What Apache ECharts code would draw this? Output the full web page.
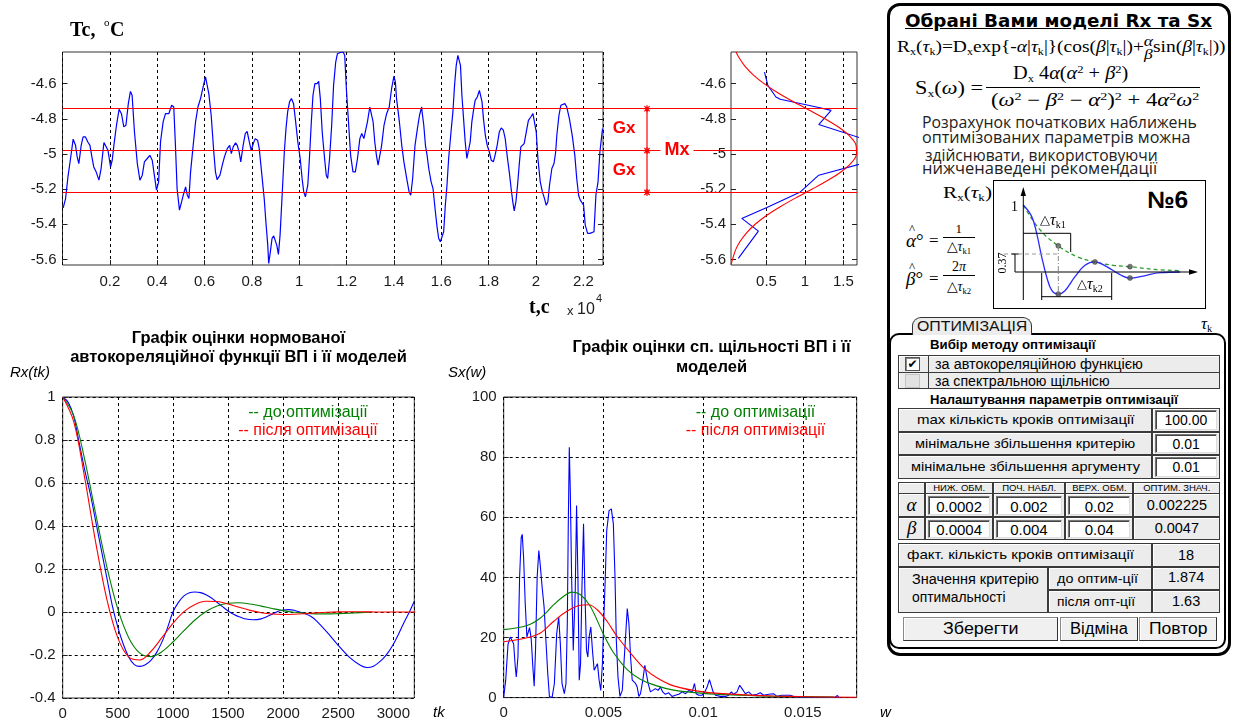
<!DOCTYPE html>
<html><head><meta charset="utf-8">
<script src="https://cdn.jsdelivr.net/npm/echarts@6/dist/echarts.min.js"></script>
<style>
html,body{margin:0;padding:0;background:#fff;width:1235px;height:726px;overflow:hidden;}
#panel{position:absolute;left:0;top:0;width:1235px;height:726px;z-index:0;}
#chart{position:absolute;left:0;top:0;width:1235px;height:726px;z-index:1;}
#panel sub{font-size:0.62em;vertical-align:-0.3em;line-height:0;}
#panel sup{font-size:0.62em;vertical-align:0.55em;line-height:0;}
.fr{display:inline-flex;flex-direction:column;vertical-align:middle;text-align:center;line-height:0.95;font-size:0.9em;}
</style></head><body>
<div id="panel"></div>
<div id="chart"></div>
<script>
// ================= DATA =================
// Temperature record Tc (°C) vs time t (×10^4 s)
const tcTime = [0.003,0.013,0.023,0.034,0.045,0.055,0.062,0.069,0.079,0.087,0.097,0.107,0.116,0.123,0.132,0.142,0.154,0.163,0.175,0.182,0.192,0.203,0.210,0.217,0.228,0.239,0.249,0.259,0.268,0.278,0.287,0.294,0.304,0.316,0.327,0.337,0.346,0.358,0.369,0.379,0.389,0.397,0.406,0.414,0.425,0.435,0.449,0.461,0.470,0.477,0.484,0.494,0.503,0.510,0.520,0.527,0.534,0.541,0.552,0.562,0.572,0.583,0.594,0.604,0.611,0.618,0.628,0.639,0.646,0.653,0.665,0.675,0.684,0.696,0.706,0.713,0.721,0.731,0.738,
0.746,0.753,0.763,0.772,0.780,0.789,0.797,0.806,0.814,0.824,0.831,0.838,0.845,0.852,0.859,0.867,0.871,0.878,0.885,0.892,0.899,0.905,0.912,0.919,0.927,0.937,0.944,0.951,0.959,0.967,0.976,0.984,0.994,1.004,1.012,1.019,1.026,1.036,1.043,1.051,1.058,1.066,1.075,1.082,1.089,1.097,1.107,1.114,1.120,1.128,1.137,1.145,1.154,1.161,1.171,1.185,1.192,1.199,1.208,1.217,1.227,1.237,1.246,1.256,1.264,1.273,1.281,1.288,1.298,1.305,1.312,1.319,1.326,1.333,1.341,1.348,1.358,1.369,1.380,1.390,1.400,1.406,1.411,1.423,1.433,1.442,1.454,1.464,1.471,1.479,1.489,1.499,1.508,1.517,
1.519,1.526,1.533,1.540,1.547,1.557,1.565,1.575,1.582,1.589,1.596,1.603,1.610,1.617,1.624,1.631,1.641,1.649,1.656,1.663,1.670,1.676,1.681,1.687,1.694,1.701,1.708,1.715,1.722,1.729,1.736,1.743,1.752,1.761,1.766,1.772,1.778,1.786,1.794,1.803,1.811,1.820,1.827,1.836,1.845,1.853,1.862,1.870,1.878,1.887,1.895,1.902,1.908,1.915,1.922,1.929,1.936,1.943,1.950,1.959,1.968,1.978,1.987,1.994,2.001,2.008,2.018,2.027,2.036,2.043,2.050,2.057,2.067,2.076,2.083,2.088,2.097,2.105,2.113,2.122,2.130,2.141,2.153,2.164,2.172,2.180,2.187,2.194,2.201,2.208,2.218,2.228,2.236,2.245,2.253,2.262,2.270,2.281];
const tcTemp = [-5.307,-5.254,-5.131,-5.026,-4.916,-4.951,-5.017,-5.055,-4.951,-4.903,-4.903,-4.932,-4.951,-5.008,-5.074,-5.102,-5.149,-5.083,-4.935,-4.932,-4.979,-5.074,-5.036,-4.951,-4.837,-4.746,-4.771,-4.846,-4.837,-4.714,-4.644,-4.666,-4.875,-5.055,-5.149,-5.121,-5.045,-5.026,-5.008,-5.036,-5.131,-5.206,-5.159,-4.932,-4.818,-4.771,-4.771,-4.723,-4.733,-4.951,-5.197,-5.320,-5.273,-5.235,-5.187,-5.235,-5.254,-5.102,-4.951,-4.818,-4.733,-4.685,-4.619,-4.562,-4.562,-4.657,-4.780,-4.989,-5.102,-5.146,-5.121,-5.064,-5.017,-4.970,-4.951,-4.998,-4.960,-4.937,-4.951,
-4.988,-5.045,-4.951,-4.884,-4.871,-4.932,-4.979,-4.941,-4.913,-4.922,-4.970,-5.064,-5.159,-5.254,-5.386,-5.519,-5.623,-5.557,-5.481,-5.466,-5.477,-5.519,-5.572,-5.462,-5.254,-4.988,-4.856,-4.761,-4.704,-4.685,-4.714,-4.808,-4.932,-5.026,-5.140,-5.216,-5.244,-5.178,-5.026,-4.818,-4.666,-4.600,-4.600,-4.587,-4.685,-4.875,-5.026,-5.121,-5.140,-5.026,-4.837,-4.610,-4.477,-4.430,-4.424,-4.420,-4.439,-4.629,-4.818,-5.008,-5.102,-5.102,-5.026,-4.913,-4.884,-4.913,-4.903,-4.818,-4.733,-4.733,-4.818,-4.932,-5.008,-5.064,-5.055,-4.951,-4.837,-4.771,-4.733,-4.629,-4.557,-4.591,-4.685,-4.818,-4.951,-5.045,-5.140,-5.216,-5.235,-5.140,-4.951,-4.856,-4.780,-4.733,
-4.761,-4.837,-4.951,-5.008,-5.083,-5.159,-5.197,-5.329,-5.415,-5.481,-5.500,-5.509,-5.443,-5.292,-5.178,-5.026,-4.875,-4.761,-4.610,-4.496,-4.439,-4.435,-4.496,-4.666,-4.799,-4.932,-5.026,-5.022,-4.932,-4.818,-4.752,-4.695,-4.676,-4.638,-4.629,-4.704,-4.799,-4.894,-4.951,-4.989,-5.036,-5.045,-5.008,-4.951,-4.875,-4.852,-4.865,-4.913,-5.008,-5.102,-5.197,-5.273,-5.324,-5.273,-5.178,-5.064,-4.960,-4.951,-4.941,-4.875,-4.809,-4.790,-4.771,-4.761,-4.875,-5.026,-5.159,-5.216,-5.254,-5.292,-5.273,-5.178,-5.083,-5.055,-4.989,-4.894,-4.780,-4.723,-4.723,-4.714,-4.733,-4.799,-4.894,-5.008,-5.140,-5.235,-5.263,-5.254,-5.292,-5.405,-5.452,-5.452,-5.458,-5.443,-5.235,-5.159,-4.988,-4.856];
const tcTicks = [-5.6, -5.4, -5.2, -5, -4.8, -4.6];
const timeTickStep = 0.2;
const Mx = -4.981;   // mean
const Gx = 0.238;    // standard deviation

// Histogram (density vs temperature) and the fitted normal density
const histDensity = [0.474,0.518,0.623,0.679,1.179,1.340,1.179,1.80,1.85,1.78,1.179,0.940,0.505,0.179,0.395,0.134];
const histTemp    = [-4.534,-4.610,-4.676,-4.689,-4.736,-4.752,-4.833,-4.92,-5.00,-5.05,-5.121,-5.216,-5.305,-5.367,-5.439,-5.594];
const pdfDensity = [0.040,0.095,0.154,0.239,0.353,0.500,0.679,0.881,1.094,1.299,1.476,1.605,1.670,1.663,1.584,1.444,1.259,1.051,0.839,0.641,0.468,0.328,0.219,0.140,0.105];
const pdfTemp    = [-5.63,-5.55,-5.50,-5.45,-5.40,-5.35,-5.30,-5.25,-5.20,-5.15,-5.10,-5.05,-5.00,-4.95,-4.90,-4.85,-4.80,-4.75,-4.70,-4.65,-4.60,-4.55,-4.50,-4.45,-4.42];
const histTicks = [0.5, 1, 1.5];

// Normalised autocorrelation: estimate and models
const acfLagEst = [0,50,100,150,200,250,300,350,400,450,500,550,600,650,700,750,800,850,900,950,1000,1050,1100,1150,1200,1250,1300,1350,1400,1450,1500,1550,1600,1650,1730,1800,1850,1900,1950,2000,2050,2100,2150,2200,2250,2300,2400,2500,2600,2700,2760,2820,2900,2950,3000,3050,3100,3150,3190];
const acfEst    = [1,0.975,0.91,0.785,0.66,0.55,0.42,0.29,0.16,0.03,-0.07,-0.15,-0.21,-0.245,-0.253,-0.245,-0.225,-0.19,-0.14,-0.075,0.0,0.045,0.075,0.09,0.093,0.09,0.08,0.065,0.045,0.025,0.005,-0.01,-0.022,-0.031,-0.036,-0.032,-0.022,-0.01,0.002,0.009,0.011,0.008,0.0,-0.008,-0.02,-0.04,-0.095,-0.155,-0.21,-0.248,-0.258,-0.252,-0.22,-0.19,-0.15,-0.1,-0.045,0.005,0.05];
const acfLagModel = [0,100,200,300,400,500,600,700,800,900,1000,1100,1200,1300,1400,1500,1600,1700,1800,1900,2000,2100,2200,2300,2400,2500,2600,2700,2800,2900,3000,3100,3200];
const acfBefore = [1,0.9135,0.7075,0.4546,0.2115,0.0142,-0.1204,-0.1910,-0.2075,-0.1848,-0.1396,-0.0868,-0.0372,0.0020,0.0280,0.0409,0.0429,0.0373,0.0274,0.0165,0.0064,-0.0014,-0.0064,-0.0087,-0.0088,-0.0074,-0.0054,-0.0031,-0.0012];
const acfAfter  = [1,0.8854,0.6229,0.3219,0.0602,-0.1203,-0.2103,-0.2231,-0.1837,-0.1193,-0.0525,0.0016,0.0353,0.0500,0.0487,0.0372,0.0220,0.0076,-0.0033,-0.0096,-0.0116,-0.0103,-0.0074,-0.0039,-0.0010,0.0005,0.001,0.001,0.0005,0,0,0,0];

// Spectral density: periodogram estimate and models
const spW = [0,0.0001,0.000216,0.000332,0.000432,0.000498,0.000581,0.000631,0.000714,0.000797,0.00088,0.00093,0.000997,0.00108,0.001163,0.001213,0.001296,0.001379,0.001462,0.001528,0.001595,0.001678,0.001761,0.001827,0.001927,0.002026,0.002126,0.002209,0.002292,0.002425,0.002541,0.002658,0.002757,0.00284,0.002923,0.00304,0.003123,0.003189,0.003239,0.003289,0.003339,0.003405,0.003488,0.003588,0.003654,0.003721,0.003787,0.003854,0.00392,0.004003,0.004069,0.004153,0.004219,0.004285,0.004368,0.004451,0.004535,0.004618,0.004701,0.004784,0.004867,0.00495,0.005,0.005083,0.005166,0.005282,0.005398,0.005498,0.005581,0.005647,0.00573,0.00583,0.005946,0.006079,0.006196,0.006279,0.006362,0.006445,0.006528,0.006611,0.006694,0.006777,0.00686,0.006976,0.007076,0.007159,0.007242,0.007358,0.007475,0.007608,0.007741,0.007857,0.007973,0.008106,0.008272,0.008438,0.008604,0.008783,0.00895,0.009117,0.009283,0.00945,0.009567,0.00965,0.009783,0.00995,0.010083,0.0102,0.010317,0.0104,0.0105,0.010617,0.010867,0.011117,0.011283,0.011417,0.011533,0.0117,0.011833,0.01195,0.012117,0.012283,0.01245,0.0127,0.012867,0.013033,0.013283,0.013533,0.0137,0.01395,0.014367,0.014617,0.01495,0.015783,0.016617,0.016733,0.016817];
const spV = [0.2,5.8,17.7,20.2,20.7,17.9,10.2,6.9,13.5,40.1,53.4,54.3,46.7,31.2,20.2,19.6,23.3,19.6,10.2,3.8,15.7,40.1,48.9,44.5,36.8,30.1,17.9,8.0,0.4,0,4.7,21.3,26.8,17.9,4.7,1.3,4.7,24.6,57.8,83.3,68.9,40.1,15.7,35.7,63.9,40.1,5.8,11.3,35.7,57.8,35.7,15.7,13.5,20.2,23.5,15.7,9.1,10.2,11.3,5.8,2.4,11.3,22.4,37.9,55.6,62.2,62.8,57.8,40.1,19.0,6.9,0.4,2.4,16.8,29.6,24.6,13.5,5.8,6.3,4.7,3.5,0.4,1.3,5.8,10.7,10.2,4.7,1.9,2.4,3.0,2.4,3.5,1.9,1.1,1.6,0.4,0.8,1.1,1.9,1.3,2.4,1.9,4.7,1.3,0.8,0.8,1.9,3.5,6.0,6.6,1.9,0.8,0.4,0.4,0.8,1.9,1.1,1.9,4.1,3.0,1.3,1.9,0.8,1.1,1.6,0.8,1.1,1.3,0.4,0.8,0.8,0.2,0.1,0.1,0.1,0.7,0];
const sxBeforeW = [0,0.00117,0.00184,0.00251,0.00301,0.00342,0.00384,0.00434,0.00501,0.00551,0.00618,0.00685,0.00768,0.00852,0.01,0.01186,0.01353,0.01654];
const sxBeforeV = [22.6,24.0,26.5,30.9,33.7,35.1,34.3,30.4,21.0,14.9,9.4,6.1,3.9,2.5,1.4,0.8,0.45,0.2];
const sxAfterW = [0,0.00117,0.00184,0.00251,0.00317,0.00384,0.00426,0.00468,0.00518,0.00568,0.00635,0.00702,0.00768,0.00852,0.01,0.01186,0.01353,0.0152,0.0177];
const sxAfterV = [18.6,19.9,21.5,25.4,28.7,30.7,30.9,29.3,25.4,20.4,14.9,9.9,6.6,3.9,1.9,1.0,0.55,0.3,0.1];

// Sketch "№6" (illustrative damped ACF and its envelope)
const sketchX = [0,0.5,0.8,1.1,1.4,1.7,2.1,2.5,3.1,3.7,4.3,5.0,5.8,6.4,7.2,8.2,9.4];
const sketchR = [1.0,0.83,0.58,0.23,-0.07,-0.27,-0.33,-0.28,-0.07,0.10,0.15,0.08,-0.04,-0.09,-0.06,-0.01,0.0];
const envX = [0,1.0,2.1,3.2,4.3,5.4,6.4,7.8,9.4];
const envR = [1.0,0.63,0.39,0.23,0.15,0.10,0.08,0.04,0.02];
const dotX = [2.1,4.3,6.4,6.4,2.1];
const dotR = [0.39,0.15,0.08,-0.09,-0.33];

// Optimisation table values
const methodRows = ['за автокореляційною функцією','за спектральною щільнісю'];
const settingRows = [['max кількість кроків оптимізації','100.00'],['мінімальне збільшення критерію','0.01'],['мінімальне збільшення аргументу','0.01']];
const paramHeader = ['НИЖ. ОБМ.','ПОЧ. НАБЛ.','ВЕРХ. ОБМ.','ОПТИМ. ЗНАЧ.'];
const alphaRow = ['0.0002','0.002','0.02','0.002225'];
const betaRow  = ['0.0004','0.004','0.04','0.0047'];
const stepsDone = '18';
const critBefore = '1.874';
const critAfter = '1.63';

// ================= CHART =================
const SANS = '"Liberation Sans", Arial, Helvetica, sans-serif';
const SERIF = '"Liberation Serif", "Times New Roman", serif';
const pairs = (xs, ys) => xs.map((x, i) => [x, ys[i]]);
const dashed = {show:true, lineStyle:{color:'#000', type:[3,3], width:1}};
const plain = (v) => String(+v.toPrecision(10));
const lbl = (extra) => Object.assign({color:'#1a1a1a', fontFamily:SANS, fontSize:15, margin:7, formatter:plain}, extra||{});
const tck = (extra) => Object.assign({show:true, inside:true, length:5, lineStyle:{color:'#222'}}, extra||{});
function axis(o){
  return Object.assign({type:'value', axisLine:{show:false}, axisTick:tck(), axisLabel:lbl(), splitLine:{show:false}}, o);
}
const gridStyle = {show:true, borderColor:'#333', borderWidth:1, backgroundColor:'transparent'};
const yTop = -4.42, yBot = -5.632;

const option = {
  animation:false,
  backgroundColor:'transparent',
  grid:[
    Object.assign({left:62.5, top:52, width:540.5, height:213}, gridStyle),
    Object.assign({left:731, top:52, width:126, height:213}, gridStyle),
    Object.assign({left:62.7, top:397, width:351.6, height:301}, gridStyle),
    Object.assign({left:503.7, top:397, width:353, height:300.6}, gridStyle),
    {left:62.5, top:52, width:794.5, height:213, show:false},
    {left:1023.3, top:205, width:166.7, height:93.8, show:false}
  ],
  xAxis:[
    axis({gridIndex:0, min:0, max:2.283, interval:timeTickStep, axisLabel:lbl({showMinLabel:false, showMaxLabel:false, margin:9}), splitLine:dashed}),
    axis({gridIndex:1, min:0.039, max:1.676, axisLabel:lbl({customValues:histTicks, margin:9}), axisTick:tck({customValues:histTicks}), splitLine:Object.assign({customValues:histTicks}, dashed)}),
    axis({gridIndex:2, min:0, max:3190, interval:500, axisLabel:lbl({showMaxLabel:false, margin:8}), splitLine:dashed}),
    axis({gridIndex:3, min:0, max:0.0177, interval:0.005, axisLabel:lbl({showMaxLabel:false, margin:8}), splitLine:dashed}),
    {type:'value', gridIndex:4, min:0, max:1, show:false},
    {type:'value', gridIndex:5, min:0, max:10, show:false}
  ],
  yAxis:[
    axis({gridIndex:0, min:yBot, max:yTop, axisLabel:lbl({customValues:tcTicks, margin:6}), axisTick:tck({customValues:tcTicks})}),
    axis({gridIndex:1, min:yBot, max:yTop, axisLabel:lbl({customValues:tcTicks, margin:5}), axisTick:tck({customValues:tcTicks})}),
    axis({gridIndex:2, min:-0.4, max:1, interval:0.2, axisLabel:lbl({margin:7}), splitLine:dashed}),
    axis({gridIndex:3, min:0, max:100, interval:20, axisLabel:lbl({margin:7}), splitLine:dashed}),
    {type:'value', gridIndex:4, min:yBot, max:yTop, show:false},
    {type:'value', gridIndex:5, min:-0.4, max:1, show:false},
    axis({gridIndex:0, position:'right', min:yBot, max:yTop, axisLabel:{show:false}, axisTick:tck({customValues:tcTicks})}),
    axis({gridIndex:1, position:'right', min:yBot, max:yTop, axisLabel:{show:false}, axisTick:tck({customValues:tcTicks})})
  ],
  series:[
    {type:'line', xAxisIndex:0, yAxisIndex:0, data:pairs(tcTime, tcTemp), showSymbol:false, silent:true, lineStyle:{color:'#0000ff', width:1.2}, z:3},
    {type:'line', xAxisIndex:1, yAxisIndex:1, data:pairs(histDensity, histTemp), showSymbol:false, silent:true, lineStyle:{color:'#0000ff', width:1.1}, z:3},
    {type:'line', xAxisIndex:1, yAxisIndex:1, data:pairs(pdfDensity, pdfTemp), showSymbol:false, silent:true, smooth:0.3, lineStyle:{color:'#ff0000', width:1.1}, z:3},
    // Mx ± Gx lines across both upper plots
    {type:'line', xAxisIndex:4, yAxisIndex:4, data:[], silent:true, z:4,
      markLine:{silent:true, symbol:['none','none'], label:{show:false}, lineStyle:{color:'#ff0000', width:1.2, type:'solid'},
        data:[{yAxis:Mx+Gx},{yAxis:Mx},{yAxis:Mx-Gx}]}},
    {type:'line', xAxisIndex:4, yAxisIndex:4, data:[[0.7357,Mx+Gx],[0.7357,Mx],[0.7357,Mx-Gx]], silent:true, z:5,
      symbol:'path://M0,4L8,4M4,0L4,8M1,1L7,7M7,1L1,7', symbolSize:7, showSymbol:true,
      itemStyle:{color:'none', borderColor:'#ff0000', borderWidth:1.2}, lineStyle:{color:'#ff0000', width:1.2}},
    // ACF
    {type:'line', xAxisIndex:2, yAxisIndex:2, data:pairs(acfLagEst, acfEst), showSymbol:false, silent:true, smooth:0.3, lineStyle:{color:'#0000ff', width:1.1}, z:3},
    {type:'line', xAxisIndex:2, yAxisIndex:2, data:pairs(acfLagModel.slice(0, acfBefore.length), acfBefore), showSymbol:false, silent:true, smooth:0.35, lineStyle:{color:'#008000', width:1.1}, z:4},
    {type:'line', xAxisIndex:2, yAxisIndex:2, data:pairs(acfLagModel, acfAfter), showSymbol:false, silent:true, smooth:0.35, lineStyle:{color:'#ff0000', width:1.1}, z:5},
    // Spectral density
    {type:'line', xAxisIndex:3, yAxisIndex:3, data:pairs(spW, spV), showSymbol:false, silent:true, lineStyle:{color:'#0000ff', width:1.1}, z:3},
    {type:'line', xAxisIndex:3, yAxisIndex:3, data:pairs(sxBeforeW, sxBeforeV), showSymbol:false, silent:true, smooth:0.35, lineStyle:{color:'#008000', width:1.1}, z:4},
    {type:'line', xAxisIndex:3, yAxisIndex:3, data:pairs(sxAfterW, sxAfterV), showSymbol:false, silent:true, smooth:0.35, lineStyle:{color:'#ff0000', width:1.1}, z:5},
    // sketch
    {type:'line', xAxisIndex:5, yAxisIndex:5, data:pairs(envX, envR), showSymbol:false, silent:true, smooth:0.4, lineStyle:{color:'#2a9a2a', width:1.3, type:[4,3]}, z:3},
    {type:'line', xAxisIndex:5, yAxisIndex:5, data:pairs(sketchX, sketchR), showSymbol:false, silent:true, smooth:0.4, lineStyle:{color:'#2a2aff', width:1.3}, z:4},
    {type:'scatter', xAxisIndex:5, yAxisIndex:5, data:pairs(dotX, dotR), silent:true, symbolSize:5, itemStyle:{color:'#555', borderColor:'#222', borderWidth:0.5}, z:6}
  ]
};

function T(x, y, text, font, fill, align, extra){
  return Object.assign({type:'text', x:x, y:y, z:100, silent:true,
    style:Object.assign({text:text, font:font, fill:fill||'#000', align:align||'left', textAlign:align||'left', verticalAlign:'middle', textVerticalAlign:'middle'}, extra||{})});
}
function L(x1,y1,x2,y2,stroke,dash,w){
  return {type:'line', z:100, silent:true, shape:{x1:x1,y1:y1,x2:x2,y2:y2}, style:{stroke:stroke||'#000', lineWidth:w||1, lineDash:dash||null}};
}
const g = [];
// top chart labels
g.push(T(70, 31, 'Tc,', 'bold 20px '+SERIF, '#000'));
g.push(T(104, 23, 'o', '11px '+SERIF, '#000'));
g.push(T(110, 31, 'C', 'bold 20px '+SERIF, '#000'));
g.push(T(529, 308, 't,c', 'bold 20px '+SERIF, '#000'));
g.push(T(567, 311, 'x', '13px '+SANS, '#222'));
g.push(T(577, 310, '10', '16px '+SANS, '#222'));
g.push(T(596, 299, '4', '11px '+SANS, '#222'));
g.push(T(624, 128, 'Gx', 'bold 17px '+SANS, '#ff0000', 'center'));
g.push(T(624, 170, 'Gx', 'bold 17px '+SANS, '#ff0000', 'center'));
g.push(T(677, 150, 'Mx', 'bold 18px '+SANS, '#ff0000', 'center', {backgroundColor:'#fff', padding:[1,4]}));
// ACF chart texts
g.push(T(238.5, 338, 'Графік оцінки нормованої', 'bold 16.5px '+SANS, '#000', 'center'));
g.push(T(238.5, 357, 'автокореляційної функції ВП і її моделей', 'bold 16.5px '+SANS, '#000', 'center'));
g.push(T(10, 373, 'Rx(tk)', 'italic 15px '+SANS, '#000'));
g.push(T(433, 713, 'tk', 'italic 15px '+SANS, '#000'));
g.push(T(308, 413, '-- до оптимізації', '16px '+SANS, '#008000', 'center'));
g.push(T(308, 431, '-- після оптимізації', '16px '+SANS, '#ff0000', 'center'));
// Sx chart texts
g.push(T(711.5, 347, 'Графік оцінки сп. щільності ВП і її', 'bold 16.5px '+SANS, '#000', 'center'));
g.push(T(711.5, 367, 'моделей', 'bold 16.5px '+SANS, '#000', 'center'));
g.push(T(448, 373, 'Sx(w)', 'italic 15px '+SANS, '#000'));
g.push(T(880, 713, 'w', 'italic 15px '+SANS, '#000'));
g.push(T(755.5, 413, '-- до оптимізації', '16px '+SANS, '#008000', 'center'));
g.push(T(755.5, 431, '-- після оптимізації', '16px '+SANS, '#ff0000', 'center'));
// sketch axes and annotations
g.push(L(1023.3, 300, 1023.3, 194));
g.push({type:'polygon', z:100, silent:true, shape:{points:[[1023.3,187],[1020.6,196],[1026,196]]}, style:{fill:'#000'}});
g.push(L(1015, 272, 1190, 272));
g.push({type:'polygon', z:100, silent:true, shape:{points:[[1198,272],[1189,269.3],[1189,274.7]]}, style:{fill:'#000'}});
g.push(T(1018, 207, '1', '14px '+SERIF, '#000', 'right'));
g.push(L(1004, 254, 1060, 254, '#999', [4,3]));
g.push(L(1058.3, 246, 1058.3, 294, '#888', [5,2,1,2]));
g.push(L(1015, 254, 1015, 272));
g.push(L(1011.5, 254, 1018.5, 254));
g.push({type:'text', z:100, silent:true, x:1003, y:263, rotation:Math.PI/2, style:{text:'0.37', font:'12px '+SERIF, fill:'#000', align:'center', textAlign:'center', verticalAlign:'middle', textVerticalAlign:'middle'}});
g.push(L(1023.3, 233.3, 1070.7, 233.3));
g.push(L(1070.7, 233.3, 1070.7, 252));
g.push(T(1040, 221, '{a|△}{t|τ}{s|k1}', '15px '+SERIF, '#000', 'left', {rich:{a:{font:'13px '+SERIF}, t:{font:'italic 16px '+SERIF}, s:{font:'10px '+SERIF, padding:[8,0,0,0]}}}));
g.push(L(1041.7, 296.7, 1111.7, 296.7));
g.push(L(1041.7, 273, 1041.7, 300));
g.push(L(1111.7, 273, 1111.7, 300));
g.push(T(1077, 285, '{a|△}{t|τ}{s|k2}', '15px '+SERIF, '#000', 'left', {rich:{a:{font:'13px '+SERIF}, t:{font:'italic 16px '+SERIF}, s:{font:'10px '+SERIF, padding:[8,0,0,0]}}}));
option.graphic = g;

const chart = echarts.init(document.getElementById('chart'), null, {renderer:'canvas', width:1235, height:726});
chart.setOption(option);

// ================= RIGHT PANEL (HTML) =================
const P = document.getElementById('panel');
function box(l,t,w,h,css,html){
  const d=document.createElement('div');
  d.style.cssText=`position:absolute;left:${l}px;top:${t}px;width:${w}px;height:${h}px;box-sizing:border-box;`+(css||'');
  if(html!=null) d.innerHTML=html;
  P.appendChild(d); return d;
}
function txt(l,cy,html,css,fitW,center){
  const d=document.createElement('div');
  d.style.cssText=`position:absolute;left:${l}px;top:0px;white-space:nowrap;line-height:1.15;transform-origin:0 50%;`+(css||'');
  d.innerHTML=html; P.appendChild(d);
  const h=d.offsetHeight, w=d.offsetWidth;
  d.style.top=(cy-h/2)+'px';
  if(fitW){ d.style.transform=`scaleX(${fitW/w})`; if(center){ d.style.left=(l-fitW/2)+'px'; } }
  else if(center){ d.style.left=(l-w/2)+'px'; }
  return d;
}
const F = (size, extra) => `font-family:${SANS};font-size:${size}px;${extra||''}`;
const FS = (size, extra) => `font-family:${SERIF};font-size:${size}px;${extra||''}`;

// outer frame
box(887,3,344,653,'border:3px solid #000;border-radius:13px;background:#fff;');
// title
txt(905,22,'Обрані Вами моделі Rx та Sx', `font-family:"DejaVu Sans",sans-serif;font-weight:bold;font-size:17px;text-decoration:underline;`, 307);
// formulas
const tk = '<i>τ</i><sub>k</sub>';
txt(897,48,`R<sub>x</sub>(${tk})=D<sub>x</sub>exp{-<i>α</i>|${tk}|}(cos(<i>β</i>|${tk}|)+<span class="fr"><i>α</i><i>β</i></span>sin(<i>β</i>|${tk}|))`, FS(16), 328);
txt(915,88,'S<sub>x</sub>(<i>ω</i>) =', FS(18), 68);
txt(1070.5,73,'D<sub>x</sub> 4<i>α</i>(<i>α</i><sup>2</sup> + <i>β</i><sup>2</sup>)', FS(18), 115, true);
box(986,87,214,1,'background:#000;');
txt(1095,100,'(<i>ω</i><sup>2</sup> − <i>β</i><sup>2</sup> − <i>α</i><sup>2</sup>)<sup>2</sup> + 4<i>α</i><sup>2</sup><i>ω</i><sup>2</sup>', FS(18), 208, true);
// paragraph
const PF = `font-family:"Open Sans","Noto Sans",sans-serif;font-size:16px;color:#222;`;
txt(922,122,'Розрахунок початкових наближень', PF, 275);
txt(922,137,'оптимізованих параметрів можна', PF, 268);
txt(925,155,'здійснювати, використовуючи', PF, 233);
txt(922,168,'нижченаведені рекомендації', PF, 235);
// sketch surroundings
txt(943,193,`R<sub>x</sub>(${tk})`, FS(16), 49);
box(993,180,213,129,'border:1px solid #000;');
txt(1147,200,'№6', F(24,'font-weight:bold;'), 41);
const hat = (ch) => `<span style="position:relative;display:inline-block"><i>${ch}</i><span style="position:absolute;left:3px;top:-8px;font-size:13px;font-style:normal">^</span></span>`;
txt(906,241, hat('α')+'°', FS(19));
txt(929,241,'=', FS(17));
txt(959,229,'1', FS(13), null, true);
box(943,237,32,1,'background:#000;');
txt(959,247,'△<i>τ</i><sub>k1</sub>', FS(14), null, true);
txt(906,279, hat('β')+'°', FS(19));
txt(929,279,'=', FS(17));
txt(959,267,'2<i>π</i>', FS(14), null, true);
box(943,275,32,1,'background:#000;');
txt(959,287,'△<i>τ</i><sub>k2</sub>', FS(14), null, true);
txt(1201,324,tk, FS(17));

// inner panel and tab
box(889,333,337,316,'border:2px solid #000;border-radius:10px;background:#fff;');
box(912,317,120,18,'border:1.5px solid #333;border-bottom:none;border-radius:9px 9px 0 0;background:#ececec;');
txt(972,326,'ОПТИМІЗАЦІЯ', F(14,'color:#111;'), 110, true);

const cellCss = 'border:1px solid #3a3a3a;background:#ececec;box-shadow:inset 1px 1px 0 #fff;';
const inputCss = 'border:1px solid #777;border-right-color:#ddd;border-bottom-color:#ddd;background:#fff;box-shadow:inset 1px 1px 0 #444;';

txt(930,345,'Вибір методу оптимізації', F(12.5,'font-weight:bold;'), 165);
box(898,355,322,34,cellCss);
box(898,372,322,1,'background:#3a3a3a;');
box(928,355,1,34,'background:#3a3a3a;');
box(905,357,15,14,'background:#fff;border:1px solid #555;box-shadow:inset 1px 1px 0 #888;font:bold 12px "DejaVu Sans",sans-serif;line-height:12px;text-align:center;color:#000;','✔');
box(905,374,15,14,'background:#e2e2e2;border:1px solid #c4c4c4;');
txt(935,363.5,methodRows[0], F(14), 208);
txt(935,380.5,methodRows[1], F(14), 175);

txt(930,400,'Налаштування параметрів оптимізації', F(12.5,'font-weight:bold;'), 248);
const rowTops = [408, 431.7, 455];
const rowFit = [217, 220, 229];
settingRows.forEach((r,i)=>{
  const t = rowTops[i], h = 23.7;
  box(898,t,254,h,cellCss);
  box(1152,t,68,h,cellCss);
  box(1155,t+2,62,h-4,inputCss);
  txt(1025,t+h/2,r[0],F(13.5),rowFit[i],true);
  txt(1186,t+h/2,r[1],F(14),null,true);
});
// parameters header
const colX = [898,925,993.3,1065,1133.3,1220];
for(let c=0;c<5;c++){ box(colX[c],481.7,colX[c+1]-colX[c],12,cellCss); }
paramHeader.forEach((h,i)=>{ txt((colX[i+1]+colX[i+2])/2,488,h,F(9.5),null,true); });
[[alphaRow,'α',493.3],[betaRow,'β',516.7]].forEach(([row,sym,t])=>{
  const h = 23.4;
  for(let c=0;c<5;c++){ box(colX[c],t,colX[c+1]-colX[c],h,cellCss); }
  txt(911.5,t+h/2,`<i>${sym}</i>`,FS(19),null,true);
  for(let c=0;c<3;c++){
    box(colX[c+1]+3,t+3,colX[c+2]-colX[c+1]-6,h-5,inputCss);
    txt((colX[c+1]+colX[c+2])/2,t+h/2+1,row[c],F(15),null,true);
  }
  txt((colX[4]+colX[5])/2,t+h/2,row[3],F(14.5),null,true);
});
// steps done
box(898,543.3,254,23.4,cellCss);
box(1152,543.3,68,23.4,cellCss);
txt(1020,555,'факт. кількість кроків оптимізації',F(13.5),227,true);
txt(1186,555,stepsDone,F(14.5),null,true);
// criterion
box(898,566.7,150.3,46.6,cellCss);
box(1048.3,566.7,103.7,23.3,cellCss);
box(1048.3,590,103.7,23.3,cellCss);
box(1152,566.7,68,23.3,cellCss);
box(1152,590,68,23.3,cellCss);
txt(911.7,578.5,'Значення критерію',F(14),127);
txt(911.7,597,'оптимальності',F(14),94);
txt(1056.7,578.5,'до оптим-ції',F(13.5),81);
txt(1056.7,601.5,'після опт-ції',F(13.5),78);
txt(1186,577.5,critBefore,F(14.5),null,true);
txt(1186,601.5,critAfter,F(14.5),null,true);
// buttons
const btnCss = 'border:1px solid #888;border-right-color:#333;border-bottom-color:#333;background:#f0f0f0;box-shadow:inset 1px 1px 0 #fff;';
box(902.7,617.3,155.6,23.4,btnCss);
box(1060,617.3,78.3,23.4,btnCss);
box(1139.3,617.3,77.4,23.4,btnCss);
txt(980.5,629,'Зберегти',F(16),75,true);
txt(1099,629,'Відміна',F(16),58,true);
txt(1178,629,'Повтор',F(16),59,true);
</script>
</body></html>
